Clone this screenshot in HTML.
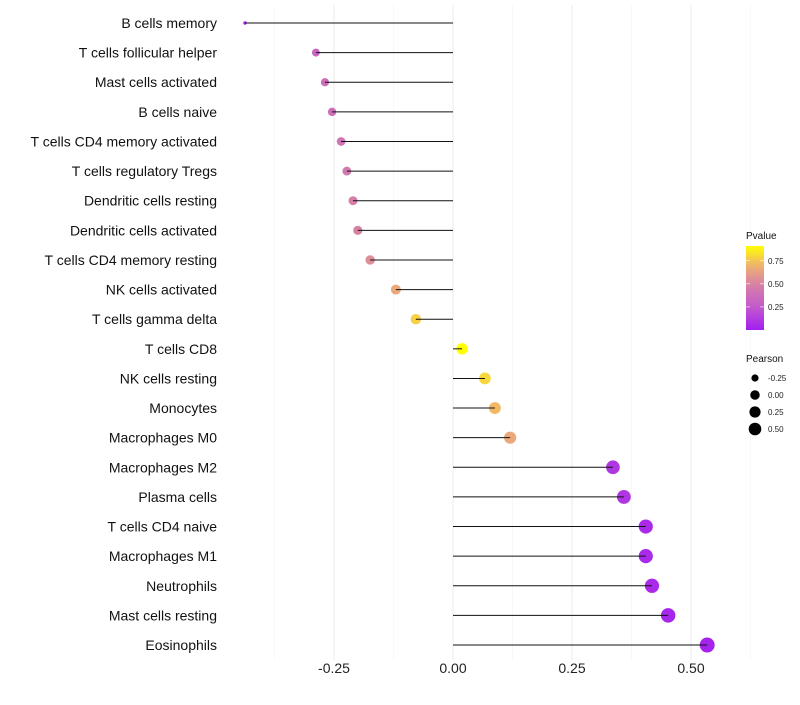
<!DOCTYPE html>
<html><head><meta charset="utf-8"><style>
html,body{margin:0;padding:0;background:#fff;}
svg text{font-family:"Liberation Sans",Arial,sans-serif;}
</style></head><body>
<svg id="chart" width="800" height="700" xmlns="http://www.w3.org/2000/svg">
<g id="grid"></g>
<g id="marks"></g>
<g id="ylab"></g>
<g id="xlab"></g>
<g id="legend"></g>
</svg>
<script>
const categories=["B cells memory","T cells follicular helper","Mast cells activated","B cells naive","T cells CD4 memory activated","T cells regulatory  Tregs","Dendritic cells resting","Dendritic cells activated","T cells CD4 memory resting","NK cells activated","T cells gamma delta","T cells CD8","NK cells resting","Monocytes","Macrophages M0","Macrophages M2","Plasma cells","T cells CD4 naive","Macrophages M1","Neutrophils","Mast cells resting","Eosinophils"];
const pearson=[-0.437,-0.288,-0.269,-0.254,-0.235,-0.223,-0.210,-0.200,-0.174,-0.120,-0.078,0.019,0.067,0.088,0.120,0.336,0.359,0.405,0.405,0.418,0.452,0.534];
const pvalue=[0.01,0.32,0.36,0.38,0.42,0.45,0.48,0.5,0.55,0.66,0.78,0.93,0.8,0.72,0.66,0.1,0.1,0.05,0.05,0.05,0.03,0.02];
const xTicks=[-0.25,0,0.25,0.5];
const xTickLabels=["-0.25","0.00","0.25","0.50"];
const colorTicks=[0.25,0.5,0.75];
const sizeTicks=[-0.25,0,0.25,0.5];
const sizeTickLabels=["-0.25","0.00","0.25","0.50"];

const NS="http://www.w3.org/2000/svg";
const x=v=>453+v*476;
const y=i=>23+i*29.62;
const pMin=Math.min(...pearson),pMax=Math.max(...pearson);
const rad=v=>{const t=Math.max(0,(v-pMin)/(pMax-pMin));return 1.7+5.8*Math.sqrt(t);};
const stops=[[0,[162,31,240]],[0.25,[195,90,205]],[0.5,[215,130,165]],[0.7,[240,178,112]],[0.91,[255,255,0]]];
function col(p){
 if(p<=stops[0][0])return `rgb(${stops[0][1]})`;
 for(let k=1;k<stops.length;k++){if(p<=stops[k][0]){const a=stops[k-1],b=stops[k];const t=(p-a[0])/(b[0]-a[0]);return `rgb(${a[1].map((c,j)=>Math.round(c+(b[1][j]-c)*t)).join(',')})`;}}
 return `rgb(${stops[stops.length-1][1]})`;
}
function mk(tag,attrs,parent){const e=document.createElementNS(NS,tag);for(const k in attrs)e.setAttribute(k,attrs[k]);parent.appendChild(e);return e;}
const grid=document.getElementById('grid'),marks=document.getElementById('marks'),ylab=document.getElementById('ylab'),xlab=document.getElementById('xlab'),leg=document.getElementById('legend');
for(let v=-0.375;v<=0.625;v+=0.125){
 const major=Math.abs((v/0.25)-Math.round(v/0.25))<1e-6;
 const g=mk('line',{x1:x(v),x2:x(v),y1:5,y2:660,stroke:major?'#ebebeb':'#f4f4f4','stroke-width':major?1:0.6},grid);
 
 
}
categories.forEach((c,i)=>{
 const t=mk('text',{x:217,y:y(i)+5,'text-anchor':'end','font-size':14,fill:'#111'},ylab);
 t.textContent=c;
 
 
 const d=mk('circle',{cx:x(pearson[i]),cy:y(i),r:rad(pearson[i]),fill:col(pvalue[i])},marks);
 
 
 const l=mk('line',{x1:x(0),x2:x(pearson[i]),y1:y(i),y2:y(i),stroke:'#111','stroke-width':1},marks);
 
 
});
xTicks.forEach((v,i)=>{
 const t=mk('text',{x:x(v),y:673,'text-anchor':'middle','font-size':14,fill:'#222'},xlab);
 t.textContent=xTickLabels[i];
 
 
});
const defs=mk('defs',{},leg);
const lg=mk('linearGradient',{id:'pg',x1:0,y1:1,x2:0,y2:0},defs);
for(let k=0;k<=10;k++){const p=k/10*0.91;mk('stop',{offset:k/10,'stop-color':col(p)},lg);}
const t1=mk('text',{x:746,y:239,'font-size':10,fill:'#111'},leg);t1.textContent='Pvalue';


const cb=mk('rect',{x:746,y:246,width:18,height:84,fill:'url(#pg)'},leg);


const cy=p=>330-(p-0.0)*(84/0.91);
colorTicks.forEach(p=>{
 mk('line',{x1:746,x2:750,y1:cy(p),y2:cy(p),stroke:'#fff','stroke-width':0.6},leg);
 mk('line',{x1:760,x2:764,y1:cy(p),y2:cy(p),stroke:'#fff','stroke-width':0.6},leg);
 const t=mk('text',{x:768,y:cy(p)+3,'font-size':8,fill:'#222'},leg);t.textContent=p.toFixed(2);
 
 
});
const t2=mk('text',{x:746,y:362,'font-size':10,fill:'#111'},leg);t2.textContent='Pearson';


sizeTicks.forEach((v,i)=>{
 const yy=378+i*17;
 const c=mk('circle',{cx:755,cy:yy,r:rad(v)*0.85,fill:'#000'},leg);
 
 
 const t=mk('text',{x:768,y:yy+3,'font-size':8,fill:'#222'},leg);t.textContent=sizeTickLabels[i];
 
 
});
</script>
</body></html>
